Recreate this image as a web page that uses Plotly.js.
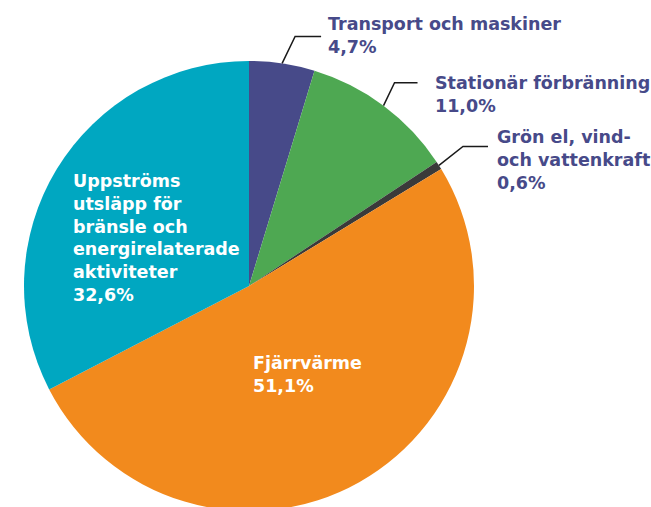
<!DOCTYPE html>
<html>
<head>
<meta charset="utf-8">
<script src="https://cdn.plot.ly/plotly-3.0.1.min.js"></script>
<style>
html,body{margin:0;padding:0;overflow:hidden;background:#fff;width:651px;height:507px;}
#chart{width:651px;height:520px;}
</style>
</head>
<body>
<div id="chart"></div>
<script>
// Data
const categories = ["Transport och maskiner", "Stationär förbränning", "Grön el, vind-<br>och vattenkraft", "Fjärrvärme", "Uppströms<br>utsläpp för<br>bränsle och<br>energirelaterade<br>aktiviteter"];
const values = [4.7, 11.0, 0.6, 51.1, 32.6];
const valueLabels = ["4,7%", "11,0%", "0,6%", "51,1%", "32,6%"];
const colors = ["#474a89", "#4ea852", "#3a3a3a", "#f28a1d", "#00a7c1"];

const W = 651, H = 520;
const cx = 249, cy = 286, R = 225;
const px = v => v / W;
const py = v => 1 - v / H;

const FONT = "DejaVu Sans";
const FS = 17.5;

// label styling (position offsets for text blocks)
const outsideStyle = [
  {elbow: [13, -27], run: 26, tx: 326, ty: 36},
  {elbow: [11, -23], run: 23, tx: 433, ty: 94},
  {elbow: [24, -19], run: 25, tx: 495, ty: 160}
];
const insideStyle = {
  3: {tx: 251, ty: 374},
  4: {tx: 71, ty: 238}
};

const total = values.reduce((a, b) => a + b, 0);
const shapes = [];
const annotations = [];
let cum = 0;
values.forEach((v, i) => {
  const mid = (cum + v / 2) / total * 2 * Math.PI;
  cum += v;
  const text = "<b>" + categories[i] + "<br>" + valueLabels[i] + "</b>";
  if (i < 3) {
    const st = outsideStyle[i];
    const x0 = cx + R * Math.sin(mid), y0 = cy - R * Math.cos(mid);
    const x1 = x0 + st.elbow[0], y1 = y0 + st.elbow[1];
    const x2 = x1 + st.run;
    shapes.push({type: "path", xref: "paper", yref: "paper",
      path: `M ${px(x0)} ${py(y0)} L ${px(x1)} ${py(y1)} L ${px(x2)} ${py(y1)}`,
      line: {color: "#1a1a1a", width: 1.5}});
    annotations.push({xref: "paper", yref: "paper", x: px(st.tx), y: py(st.ty),
      xanchor: "left", yanchor: "middle", align: "left", showarrow: false,
      text: text, font: {family: FONT, size: FS, color: "#474a89"}});
  } else {
    const st = insideStyle[i];
    annotations.push({xref: "paper", yref: "paper", x: px(st.tx), y: py(st.ty),
      xanchor: "left", yanchor: "middle", align: "left", showarrow: false,
      text: text, font: {family: FONT, size: FS, color: "#ffffff"}});
  }
});

const trace = {
  type: "pie",
  labels: categories,
  values: values,
  sort: false,
  direction: "clockwise",
  rotation: 0,
  textinfo: "none",
  hoverinfo: "none",
  marker: {colors: colors, line: {color: "#ffffff", width: 0}},
  domain: {x: [(cx - R) / W, (cx + R) / W], y: [(H - cy - R) / H, (H - cy + R) / H]},
  showlegend: false
};

Plotly.newPlot("chart", [trace], {
  width: W, height: H,
  margin: {l: 0, r: 0, t: 0, b: 0},
  paper_bgcolor: "#ffffff",
  showlegend: false,
  shapes: shapes,
  annotations: annotations
}, {staticPlot: true});
</script>
</body>
</html>
